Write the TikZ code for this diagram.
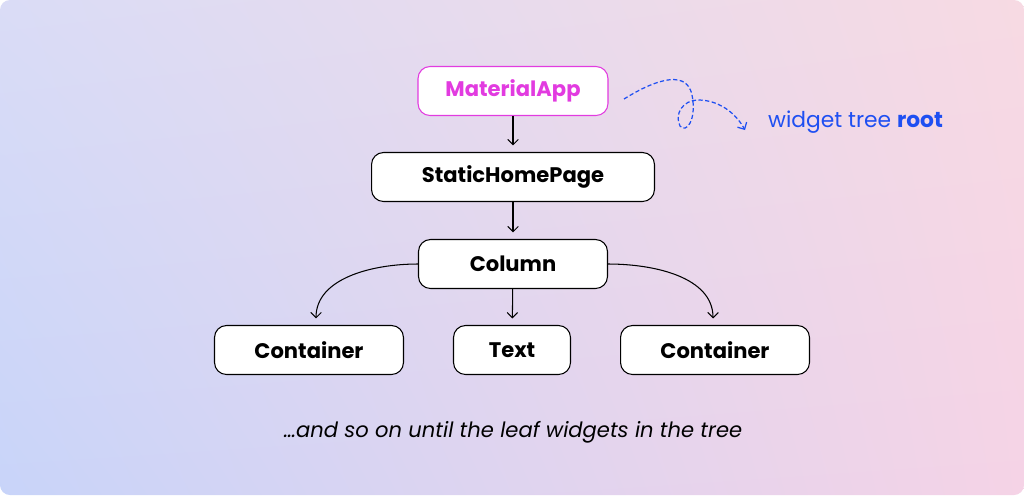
\documentclass[tikz,border=0pt]{standalone}
\usepackage{fontspec}
\setmainfont{Poppins}
\usetikzlibrary{arrows.meta, shadings}

\definecolor{appmagenta}{HTML}{E23BE0}
\definecolor{rootblue}{HTML}{1E4FF2}
\definecolor{bgtl}{HTML}{DADCF6}
\definecolor{bgtr}{HTML}{F7DAE3}
\definecolor{bgbl}{HTML}{C8D4F9}
\definecolor{bgbr}{HTML}{F5D3E6}

\tikzset{
  widget/.style={draw, fill=white, line width=0.6pt, rounded corners=0.24cm,
    minimum height=0.98cm, font=\bfseries\fontsize{12}{14}\selectfont},
  link/.style={-{Straight Barb[length=3pt,width=6pt]}, line width=0.6pt, shorten >=0.13cm}
}

\begin{document}
\begin{tikzpicture}[x=0.02cm, y=-0.02cm]
  \fill[white] (0,0) rectangle (1024,495);
  \shade[rounded corners=0.2cm, upper left=bgtl, upper right=bgtr, lower left=bgbl, lower right=bgbr]
    (0,0) rectangle (1024,495);

  % the tree
  \node[widget, draw=appmagenta, text=appmagenta, minimum width=3.8cm] (app) at (513,91) {MaterialApp};
  \node[widget, minimum width=5.66cm] (home) at (513,177) {StaticHomePage};
  \node[widget, minimum width=3.78cm] (col) at (513,264) {Column};
  \node[widget, minimum width=3.78cm] (cont1) at (309,350) {Container};
  \node[widget, minimum width=2.34cm] (txt) at (512,350) {Text};
  \node[widget, minimum width=3.78cm] (cont2) at (715,350) {Container};

  \draw[link] (app) -- (home);
  \draw[link] (home) -- (col);
  \draw[link] (col) -- (txt);
  \draw[link] (col.west) to[out=180, in=90] ([xshift=0.14cm]cont1.north);
  \draw[link] (col.east) to[out=0, in=90] ([xshift=-0.04cm]cont2.north);

  % note on the root
  \node[anchor=west, text=rootblue, font=\fontsize{12.4}{14}\selectfont] (note) at (762,122) {widget tree \textbf{root}};
  \coordinate (loopstart) at (624,99);
  \coordinate (loopend) at (745,130);
  \draw[rootblue, line width=0.7pt, dash pattern=on 2.4pt off 1.4pt, -{Straight Barb[length=3pt,width=6pt]}]
    (loopstart) .. controls (648,84) and (686,66) .. (692,95)
    .. controls (697,120) and (686,134) .. (680,126)
    .. controls (674,114) and (683,100) .. (698,100)
    .. controls (718,100) and (735,112) .. (loopend);

  \node[font=\itshape\fontsize{12}{14}\selectfont] (caption) at (513,432) {…and so on until the leaf widgets in the tree};
\end{tikzpicture}
\end{document}
